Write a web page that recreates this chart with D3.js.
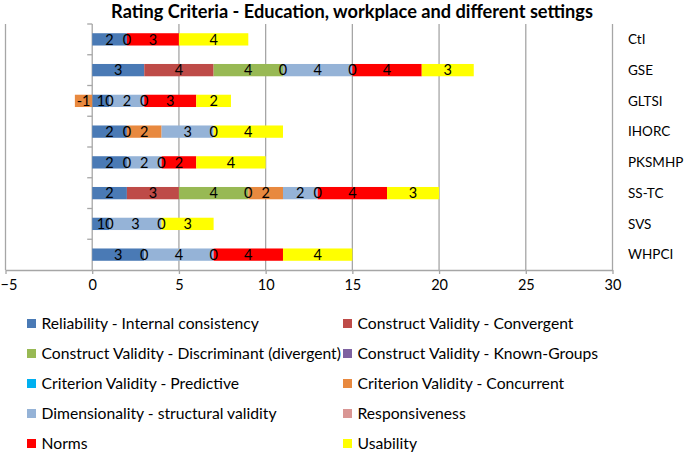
<!DOCTYPE html>
<html>
<head>
<meta charset="utf-8">
<script src="https://cdn.jsdelivr.net/npm/d3@7"></script>
<style>
  html, body { margin: 0; padding: 0; background: #fff; }
  svg { display: block; font-family: Lato, "Open Sans", sans-serif; }
</style>
</head>
<body>
<svg id="chart" width="685" height="452"></svg>
<script>
// ---- Data ----
const title = "Rating Criteria - Education, workplace and different settings";
const categories = ["CtI", "GSE", "GLTSI", "IHORC", "PKSMHP", "SS-TC", "SVS", "WHPCI"];
const seriesNames = [
  "Reliability - Internal consistency",
  "Construct Validity - Convergent",
  "Construct Validity - Discriminant (divergent)",
  "Construct Validity - Known-Groups",
  "Criterion Validity - Predictive",
  "Criterion Validity - Concurrent",
  "Dimensionality - structural validity",
  "Responsiveness",
  "Norms",
  "Usability"
];
const seriesColors = ["#4A7AB5", "#BE4B48", "#98B954", "#7E62A1", "#00B0F0", "#E8893F", "#95B3D7", "#D99694", "#FF0000", "#FFFF00"];
// null = blank cell (no bar, no label)
const reliability    = [2, 3, 1, 2, 2, 2, 1, 3];
const convergent     = [null, 4, null, null, null, 3, null, null];
const discriminant   = [null, 4, null, null, null, 4, null, null];
const knownGroups    = [0, 0, 0, 0, 0, 0, 0, 0];
const predictive     = [null, null, null, null, null, null, null, null];
const concurrent     = [null, null, -1, 2, null, 2, null, null];
const dimensionality = [null, 4, 2, 3, 2, 2, 3, 4];
const responsiveness = [null, 0, 0, 0, 0, 0, 0, 0];
const norms          = [3, 4, 3, null, 2, 4, null, 4];
const usability      = [4, 3, 2, 4, 4, 3, 3, 4];
const xTicks = [-5, 0, 5, 10, 15, 20, 25, 30];

const seriesValues = [reliability, convergent, discriminant, knownGroups, predictive,
                      concurrent, dimensionality, responsiveness, norms, usability];

// table for d3.stack
const table = categories.map((c, i) => {
  const row = { category: c };
  seriesNames.forEach((s, j) => { row[s] = seriesValues[j][i]; });
  return row;
});

// Excel-like stacking: positives (and zeros) stack rightwards, negatives leftwards
function offsetExcel(series, order) {
  const m = series[0].length;
  for (let i = 0; i < m; ++i) {
    let yp = 0, yn = 0;
    for (let j = 0; j < order.length; ++j) {
      const d = series[order[j]][i];
      const dy = d[1] - d[0];
      if (dy < 0) { d[1] = yn; d[0] = yn += dy; }
      else { d[0] = yp; d[1] = yp += dy; }
    }
  }
}

const stacked = d3.stack()
  .keys(seriesNames)
  .value((d, k) => d[k] == null ? 0 : +d[k])
  .offset(offsetExcel)(table);

// ---- Layout ----
const svg = d3.select("#chart");
const plotTop = 24, plotBottom = 270;
const x = d3.scaleLinear().domain([-5, 30]).range([5.5, 612.5]);
const y = d3.scaleBand().domain(categories).range([plotTop, plotBottom]).paddingInner(0.6).paddingOuter(0.3);
const bandY = d3.scaleBand().domain(categories).range([plotTop, plotBottom]);

const gridColor = "#A6A6A6";

// title
svg.append("text")
  .attr("x", 352).attr("y", 18)
  .attr("text-anchor", "middle")
  .attr("font-size", 18.2).attr("font-weight", "bold")
  .attr("fill", "#000")
  .text(title);

// vertical gridlines
svg.append("g").selectAll("line")
  .data(xTicks.filter(t => t !== 0))
  .join("line")
  .attr("x1", d => x(d)).attr("x2", d => x(d))
  .attr("y1", plotTop).attr("y2", plotBottom)
  .attr("stroke", gridColor).attr("stroke-width", 1.3);

// bottom axis
const xAxis = d3.axisBottom(x).tickValues(xTicks).tickSize(4).tickSizeOuter(0).tickPadding(6);
const gx = svg.append("g").attr("transform", `translate(0,${plotBottom})`).call(xAxis);
gx.select(".domain").attr("stroke", gridColor).attr("stroke-width", 1.3);
gx.selectAll(".tick line").attr("stroke", gridColor).attr("stroke-width", 1.3);
gx.selectAll(".tick text").attr("font-size", 14.5).attr("fill", "#000").attr("font-family", "Lato, sans-serif");
// keep the leftmost label inside the page
gx.selectAll(".tick text").filter(d => d === -5).attr("text-anchor", "start").attr("x", -5.5);

// category axis at x=0 with boundary tick marks
const catAxisG = svg.append("g");
catAxisG.append("line")
  .attr("x1", x(0)).attr("x2", x(0)).attr("y1", plotTop).attr("y2", plotBottom)
  .attr("stroke", gridColor).attr("stroke-width", 1.3);
catAxisG.selectAll("line.tk")
  .data(categories)
  .join("line").attr("class", "tk")
  .attr("x1", x(0) - 5).attr("x2", x(0))
  .attr("y1", d => bandY(d)).attr("y2", d => bandY(d))
  .attr("stroke", gridColor).attr("stroke-width", 1.3);

// bars
const barsG = svg.append("g");
stacked.forEach((s, j) => {
  barsG.append("g").attr("fill", seriesColors[j])
    .selectAll("rect")
    .data(s.filter(d => d[1] !== d[0]))
    .join("rect")
    .attr("x", d => x(Math.min(d[0], d[1])))
    .attr("width", d => Math.abs(x(d[1]) - x(d[0])))
    .attr("y", d => y(d.data.category))
    .attr("height", y.bandwidth());
});

// data labels
const labelsG = svg.append("g");
stacked.forEach((s, j) => {
  labelsG.append("g")
    .selectAll("text")
    .data(s.filter(d => d.data[seriesNames[j]] != null))
    .join("text")
    .attr("x", d => x((d[0] + d[1]) / 2))
    .attr("y", d => y(d.data.category) + y.bandwidth() / 2)
    .attr("dy", "0.36em")
    .attr("text-anchor", "middle")
    .attr("font-size", 14.5)
    .attr("fill", "#000")
    .text(d => d.data[seriesNames[j]]);
});

// category labels on the right
svg.append("g").selectAll("text")
  .data(categories)
  .join("text")
  .attr("x", 628)
  .attr("y", d => y(d) + y.bandwidth() / 2)
  .attr("dy", "0.36em")
  .attr("font-size", 13.5)
  .attr("fill", "#000")
  .text(d => d);

// legend
const legendCols = [27, 343];
const legendRows = [323.5, 353.5, 383.5, 413.5, 443.5];
const leg = svg.append("g").selectAll("g")
  .data(seriesNames)
  .join("g")
  .attr("transform", (d, i) => `translate(${legendCols[i % 2]},${legendRows[Math.floor(i / 2)]})`);
leg.append("rect")
  .attr("x", 0).attr("y", -4.5).attr("width", 9).attr("height", 9)
  .attr("fill", (d, i) => seriesColors[i]);
leg.append("text")
  .attr("x", 14.5).attr("dy", "0.36em")
  .attr("font-size", 15.7)
  .attr("fill", "#000")
  .text(d => d);
</script>
</body>
</html>
